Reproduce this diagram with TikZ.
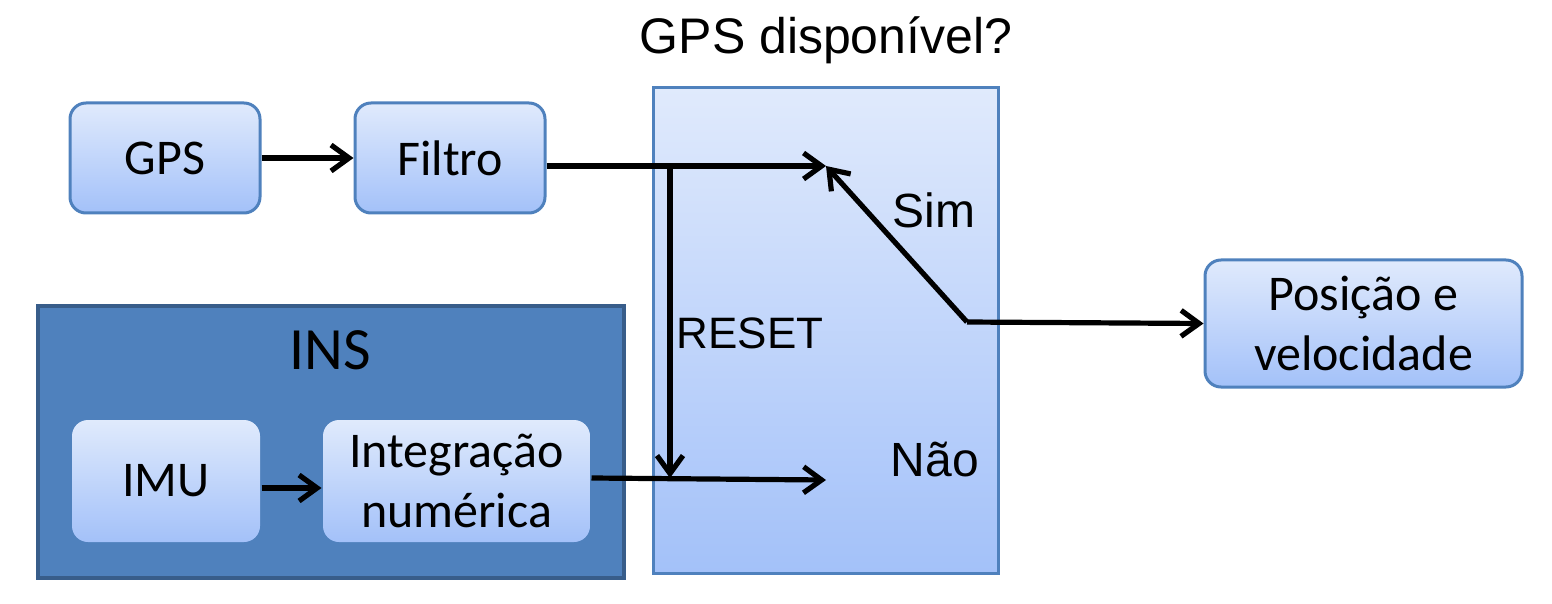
\documentclass[tikz,border=0pt]{standalone}
\usepackage{fontspec}
\setmainfont{Carlito}
\newfontfamily\arialf{Liberation Sans}
\usetikzlibrary{arrows.meta}
\definecolor{boxtop}{HTML}{E0EAFC}
\definecolor{boxbot}{HTML}{A3C1F9}
\definecolor{boxedge}{HTML}{4F81BD}
\definecolor{insfill}{HTML}{4F81BD}
\definecolor{insedge}{HTML}{385D8A}
\tikzset{
  bluebox/.style={draw=boxedge, line width=1.5pt, rounded corners=8pt,
    top color=boxtop, bottom color=boxbot, align=center,
    font=\fontsize{25}{30}\selectfont, inner sep=0pt},
  innerbox/.style={bluebox, draw=none},
  conn/.style={line width=2.6pt, -{Straight Barb[length=9pt,width=13pt,line width=2.6pt]}},
  lbl/.style={font=\arialf\fontsize{22}{26}\selectfont, inner sep=0pt}
}
\begin{document}
\begin{tikzpicture}[x=0.5pt,y=-0.5pt]
\useasboundingbox (0,0) rectangle (1552,604);
% switch box
\node[draw=boxedge, line width=1.5pt, top color=boxtop, bottom color=boxbot,
  minimum width=172.5pt, minimum height=242.5pt, inner sep=0pt] (sw) at (825.5,330.5) {};
% INS box
\node[draw=insedge, fill=insfill, line width=2pt,
  minimum width=293pt, minimum height=136pt, inner sep=0pt] (ins) at (331,442) {};
\node[font=\fontsize{30}{34}\selectfont, inner sep=0pt] (inslbl) at (330,350) {INS};
% boxes
\node[bluebox, minimum width=95pt, minimum height=55pt] (gps) at (165,158) {GPS};
\node[bluebox, minimum width=95pt, minimum height=55pt] (filtro) at (450,158) {Filtro};
\node[innerbox, minimum width=94pt, minimum height=61pt] (imu) at (166,481) {IMU};
\node[innerbox, minimum width=133.5pt, minimum height=61pt] (integ) at (456.5,481) {Integração\\numérica};
\node[bluebox, minimum width=158.5pt, minimum height=63.5pt] (pos) at (1363.5,323.5) {Posição e\\velocidade};
% labels
\node[lbl, font=\arialf\fontsize{25}{30}\selectfont] (title) at (826,40) {GPS disponível?};
\node[lbl, font=\arialf\fontsize{24}{28}\selectfont] (sim) at (934,210) {Sim};
\node[lbl, font=\arialf\fontsize{24}{28}\selectfont] (nao) at (935,460) {Não};
\node[lbl] (reset) at (750,333) {RESET};
% coordinates
\coordinate (simin) at (826,166);
\coordinate (naoin) at (826,480);
\coordinate (piv) at (967,322);
\coordinate (rst) at (670,166);
\coordinate (rstend) at (670,478);
% connectors
\draw[conn] (gps.east) -- (filtro.west);
\draw[conn] (imu.east |- 0,488) -- (integ.west |- 0,488);
\draw[conn] (filtro.east |- simin) -- (simin);
\draw[conn] (rst) -- (rstend);
\draw[conn] (integ.east |- 0,478) -- (naoin);
\draw[conn] (piv) -- (simin);
\draw[conn] (piv) -- (pos.west);
\end{tikzpicture}
\end{document}
